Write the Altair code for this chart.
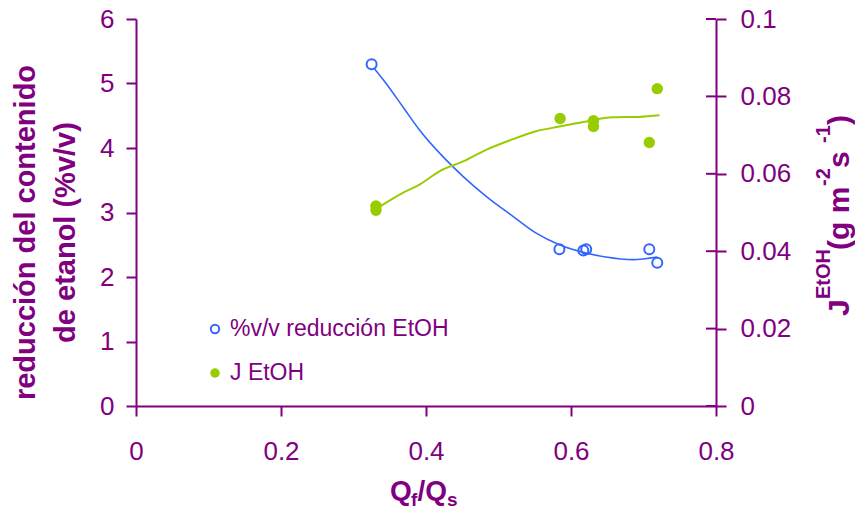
import altair as alt
import pandas as pd

PURPLE = "#800080"
BLUE = "#3366FF"
GREEN = "#99CC00"
FONT = "Liberation Sans"

# measured points
q_red = [0.325, 0.584, 0.617, 0.621, 0.708, 0.719]
red_val = [5.30, 2.43, 2.41, 2.43, 2.43, 2.22]
q_flux = [0.331, 0.331, 0.585, 0.631, 0.631, 0.708, 0.719]
flux_val = [0.0517, 0.0506, 0.0743, 0.0737, 0.0722, 0.0681, 0.0820]

# fitted curves
q_red_fit = [0.328, 0.345, 0.368, 0.391, 0.423, 0.451, 0.483, 0.520, 0.552, 0.584, 0.621, 0.648, 0.685, 0.719]
red_fit = [5.24, 5.00, 4.64, 4.28, 3.87, 3.56, 3.25, 2.94, 2.68, 2.50, 2.37, 2.31, 2.27, 2.31]
q_flux_fit = [0.336, 0.368, 0.391, 0.419, 0.451, 0.483, 0.515, 0.552, 0.584, 0.621, 0.657, 0.694, 0.722]
flux_fit = [0.0515, 0.0551, 0.0572, 0.0607, 0.0632, 0.0662, 0.0686, 0.0710, 0.0722, 0.0735, 0.0746, 0.0747, 0.0751]

x_ticks = [0, 0.2, 0.4, 0.6, 0.8]
left_ticks = [0, 1, 2, 3, 4, 5, 6]
right_ticks = [0, 0.02, 0.04, 0.06, 0.08, 0.1]

W, H = 580, 387
PL, PT = 136, 19

df_red = pd.DataFrame({"q": q_red, "v": red_val})
df_red_fit = pd.DataFrame({"q": q_red_fit, "v": red_fit})
df_flux = pd.DataFrame({"q": q_flux, "v": flux_val})
df_flux_fit = pd.DataFrame({"q": q_flux_fit, "v": flux_fit})
df_rt = pd.DataFrame({"v": right_ticks})

xs = alt.Scale(domain=[0, 0.8], nice=False)
xax = alt.Axis(values=x_ticks, format="~g", title=None, grid=False,
               labelFontSize=26, labelFont=FONT, labelColor=PURPLE,
               domainColor=PURPLE, domainWidth=2, tickColor=PURPLE, tickWidth=2,
               tickSize=10, labelPadding=22, labelFlush=False)
X = alt.X("q:Q", scale=xs, axis=xax)

left_axis = alt.Axis(values=left_ticks, format="d", grid=False, orient="left",
                     title=["reducción del contenido", "de etanol (%v/v)"],
                     titleFontSize=29, titleFont=FONT, titleFontWeight="bold", titleColor=PURPLE,
                     titleLineHeight=40, titleX=-111, titleY=213, titleBaseline="middle",
                     titleAngle=270,
                     labelFontSize=26, labelFont=FONT, labelColor=PURPLE,
                     domainColor=PURPLE, domainWidth=2, tickColor=PURPLE, tickWidth=2,
                     tickSize=10, labelPadding=12, labelFlush=False)
right_axis = alt.Axis(values=right_ticks, format="~g", grid=False, orient="right", title=None,
                      labelFontSize=26, labelFont=FONT, labelColor=PURPLE,
                      domainColor=PURPLE, domainWidth=2, tickColor=PURPLE, tickWidth=2,
                      tickSize=10, labelPadding=14, labelFlush=False)

ys_left = alt.Scale(domain=[0, 6], nice=False)
ys_right = alt.Scale(domain=[0, 0.1], nice=False)

red_line = alt.Chart(df_red_fit).mark_line(color=BLUE, strokeWidth=1.6, interpolate="monotone").encode(
    x=X, y=alt.Y("v:Q", scale=ys_left, axis=left_axis))
red_pts = alt.Chart(df_red).mark_point(shape="circle", filled=False, color=BLUE, strokeWidth=2, size=100, opacity=1).encode(
    x=X, y=alt.Y("v:Q", scale=ys_left, axis=left_axis))
left = alt.layer(red_line, red_pts)

flux_line = alt.Chart(df_flux_fit).mark_line(color=GREEN, strokeWidth=2, interpolate="monotone").encode(
    x=X, y=alt.Y("v:Q", scale=ys_right, axis=right_axis))
flux_pts = alt.Chart(df_flux).mark_circle(color=GREEN, size=130, opacity=1).encode(
    x=X, y=alt.Y("v:Q", scale=ys_right, axis=right_axis))
inner_ticks = alt.Chart(df_rt).mark_rule(color=PURPLE, strokeWidth=2).encode(
    x=alt.value(W - 10), x2=alt.value(W), y=alt.Y("v:Q", scale=ys_right, axis=right_axis))
right = alt.layer(flux_line, flux_pts, inner_ticks)

one = pd.DataFrame({"a": [0]})


def txt(s, x, y, size, bold=False, angle=0, align="left", baseline="alphabetic", color=PURPLE):
    return alt.Chart(one).mark_text(
        text=s, font=FONT, fontSize=size, fontWeight="bold" if bold else "normal",
        angle=angle, align=align, baseline=baseline, color=color
    ).encode(x=alt.value(x - PL), y=alt.value(y - PT))


def sym(x, y, filled, color, size):
    if filled:
        m = alt.Chart(one).mark_circle(color=color, size=size, opacity=1)
    else:
        m = alt.Chart(one).mark_point(shape="circle", filled=False, color=color, strokeWidth=2, size=size, opacity=1)
    return m.encode(x=alt.value(x - PL), y=alt.value(y - PT))


legend_parts = [
    sym(215, 329, False, BLUE, 70),
    txt("%v/v reducción EtOH", 230, 329, 23, baseline="middle"),
    sym(215, 373, True, GREEN, 90),
    txt("J EtOH", 230, 373, 23, baseline="middle"),
]

# x-axis title Q_f/Q_s
xtitle = [
    txt("Q", 390, 500, 28, bold=True),
    txt("f", 411, 506, 19, bold=True),
    txt("/Q", 417.5, 500, 28, bold=True),
    txt("s", 447, 506, 19, bold=True),
]

# right-axis title J^EtOH (g m^-2 s^-1), reading bottom to top
BX, SX = 849, 830
rtitle = [
    txt("J", BX, 316, 30, bold=True, angle=270),
    txt("EtOH", SX, 299, 20, bold=True, angle=270),
    txt("(g m", BX, 250, 30, bold=True, angle=270),
    txt("-2", SX, 186, 20, bold=True, angle=270),
    txt(" s", BX, 168, 30, bold=True, angle=270),
    txt("-1", SX, 143, 20, bold=True, angle=270),
    txt(" )", BX, 125, 30, bold=True, angle=270),
]

data_layers = alt.layer(left, right).resolve_scale(y="independent")

chart = alt.layer(data_layers, *legend_parts, *xtitle, *rtitle).properties(
    width=W, height=H,
    padding={"left": PL, "top": PT, "right": 855 - PL - W, "bottom": 516 - PT - H},
    autosize=alt.AutoSizeParams(type="none"),
    background="white",
).configure_view(strokeWidth=0)

chart.save("out.html", embed_options={"renderer": "svg", "actions": False})
